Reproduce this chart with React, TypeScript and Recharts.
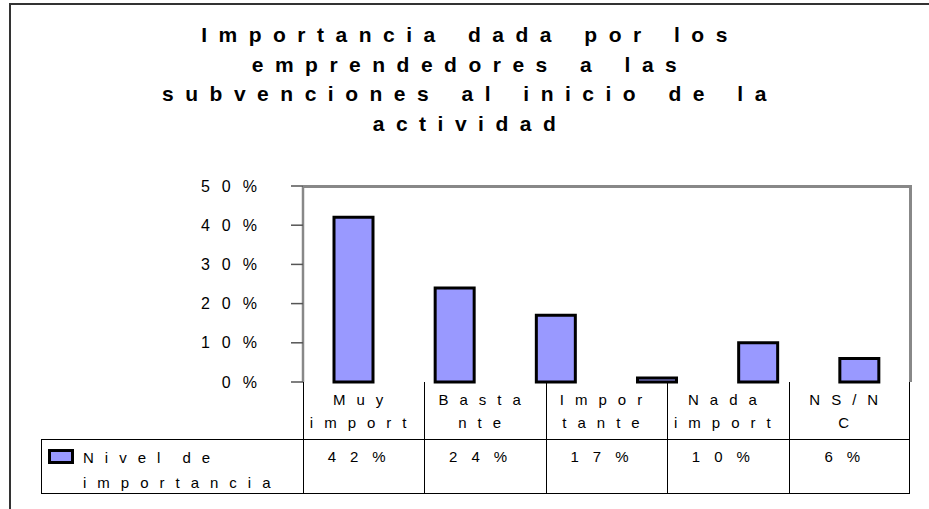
import React from 'react'
import { BarChart, Bar, XAxis, YAxis } from 'recharts'

const categories = ['Muy import', 'Bastante', 'Importante', 'Poco import', 'Nada import', 'NS/NC']
const barValues = [42, 24, 17, 1, 10, 6]
const yTicks = [0, 10, 20, 30, 40, 50]

const titleLines = [
  'Importancia dada por los',
  'emprendedores a las',
  'subvenciones al inicio de la',
  'actividad'
]
// the data table under the chart (as printed, with its line breaks)
const tableHeaders = [['Muy', 'import'], ['Basta', 'nte'], ['Impor', 'tante'], ['Nada', 'import'], ['NS/N', 'C']]
const tableValues = ['42%', '24%', '17%', '10%', '6%']
const seriesName = ['Nivel de', 'importancia']

const FONT = '"Liberation Sans", Arial, Helvetica, sans-serif'
const W = 929
const H = 509
const PLOT_L = 303
const PLOT_R = 910
const PLOT_T = 186
const PLOT_B = 382
const ROW1_B = 439
const ROW2_B = 494
const LEG_L = 41
const BAR_FILL = '#9999ff'

const YTick = (props: any) => {
  const { x, y, payload } = props
  return (
    <text x={x} y={y} dy={5.5} textAnchor="end" fontFamily={FONT} fontSize={16} fill="#000"
      style={{ letterSpacing: 12 }}>
      {payload.value}%
    </text>
  )
}

export default function App() {
  const data = categories.map((c, i) => ({ cat: c, value: barValues[i] }))
  const colW = (PLOT_R - PLOT_L) / tableHeaders.length
  const line = '1px solid #000'

  return (
    <div style={{ position: 'absolute', left: 0, top: 0, width: W, height: H, overflow: 'hidden', background: '#fff', fontFamily: FONT }}>
      {/* chart frame, only top and left edges are inside the picture */}
      <div style={{ position: 'absolute', left: 9, top: 3, width: 1100, height: 700, borderTop: '2px solid #333', borderLeft: '2px solid #333' }} />

      {/* title */}
      <div style={{ position: 'absolute', left: 0, top: 20, width: 940, textAlign: 'center', fontWeight: 'bold', fontSize: 21, lineHeight: '29.7px', letterSpacing: 11.5, wordSpacing: 4, color: '#000' }}>
        {titleLines.map((t, i) => <div key={i}>{t}</div>)}
      </div>

      <div style={{ position: 'absolute', left: 0, top: 0 }}>
        <BarChart width={W} height={H} data={data}
          margin={{ top: PLOT_T, right: W - PLOT_R, bottom: H - PLOT_B, left: PLOT_L - 100 }}>
          <XAxis dataKey="cat" tick={false} tickLine={false} height={0}
            axisLine={{ stroke: '#404040', strokeWidth: 2.5 }} />
          <YAxis domain={[0, 50]} ticks={yTicks} width={100} tick={<YTick />} tickSize={12} tickMargin={22}
            interval={0} axisLine={{ stroke: '#888', strokeWidth: 2.5 }} tickLine={{ stroke: '#555', strokeWidth: 1.5 }} />
          <Bar dataKey="value" fill={BAR_FILL} stroke="#000" strokeWidth={3} barSize={39} isAnimationActive={false} />
        </BarChart>
      </div>

      {/* plot area border, top and right */}
      <div style={{ position: 'absolute', left: PLOT_L, top: PLOT_T - 1.5, width: PLOT_R - PLOT_L + 1.5, height: PLOT_B - PLOT_T + 1, boxSizing: 'border-box', borderTop: '3px solid #888', borderRight: '3px solid #888' }} />

      {/* data table */}
      <div style={{ position: 'absolute', left: PLOT_L, top: PLOT_B, width: PLOT_R - PLOT_L, height: ROW2_B - PLOT_B, borderLeft: line, borderRight: line, boxSizing: 'border-box' }} />
      <div style={{ position: 'absolute', left: LEG_L, top: ROW1_B, width: PLOT_R - LEG_L, height: ROW2_B - ROW1_B, border: line, boxSizing: 'border-box' }} />
      {tableHeaders.map((h, i) => (
        <React.Fragment key={i}>
          {i > 0 && <div style={{ position: 'absolute', left: PLOT_L + i * colW, top: PLOT_B, width: 0, height: ROW2_B - PLOT_B, borderLeft: line }} />}
          <div style={{ position: 'absolute', left: PLOT_L + i * colW, top: PLOT_B + 6, width: colW, textAlign: 'center', fontSize: 15, lineHeight: '23px', letterSpacing: 11, color: '#000' }}>
            {h.map((s, j) => <div key={j}>{s}</div>)}
          </div>
          <div style={{ position: 'absolute', left: PLOT_L + i * colW, top: ROW1_B + 6, width: colW, textAlign: 'center', fontSize: 15, lineHeight: '23px', letterSpacing: 14, color: '#000' }}>
            {tableValues[i]}
          </div>
        </React.Fragment>
      ))}

      {/* legend key */}
      <div style={{ position: 'absolute', left: 48, top: 449, width: 26, height: 15, boxSizing: 'border-box', border: '3px solid #000', background: BAR_FILL }} />
      <div style={{ position: 'absolute', left: 83, top: ROW1_B + 6, fontSize: 15, lineHeight: '25px', letterSpacing: 11, wordSpacing: -4, color: '#000' }}>
        {seriesName.map((s, j) => <div key={j}>{s}</div>)}
      </div>
    </div>
  )
}
